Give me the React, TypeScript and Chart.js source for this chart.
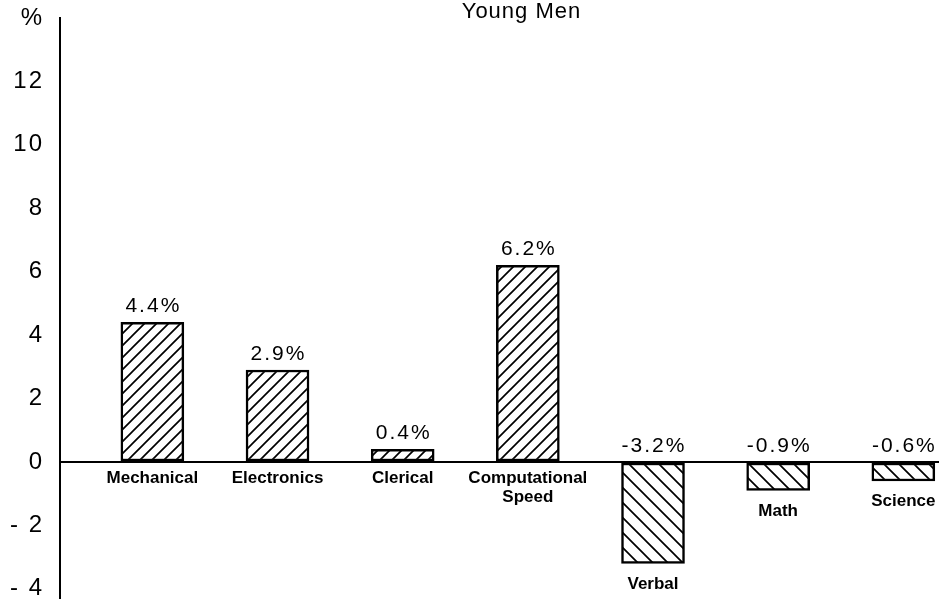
import React, { useEffect, useRef } from 'react';
import { Chart, registerables } from 'chart.js';

Chart.register(...registerables);

// ---- data ----
const categories: (string | string[])[] = [
  'Mechanical',
  'Electronics',
  'Clerical',
  ['Computational', 'Speed'],
  'Verbal',
  'Math',
  'Science',
];
const values: number[] = [4.4, 2.9, 0.4, 6.2, -3.2, -0.9, -0.6];
const titleText = 'Young Men';
const yAxisUnit = '%';

const FONT = '"Liberation Sans", Arial, Helvetica, sans-serif';

function makeHatch(dir: 1 | -1, s: number): CanvasPattern | string {
  const c = document.createElement('canvas');
  c.width = s;
  c.height = s;
  const g = c.getContext('2d');
  if (!g) return '#fff';
  g.fillStyle = '#fff';
  g.fillRect(0, 0, s, s);
  g.strokeStyle = '#000';
  g.lineWidth = 1.7;
  g.beginPath();
  if (dir === 1) {
    g.moveTo(0, s);
    g.lineTo(s, 0);
    g.moveTo(-1, 1);
    g.lineTo(1, -1);
    g.moveTo(s - 1, s + 1);
    g.lineTo(s + 1, s - 1);
  } else {
    g.moveTo(0, 0);
    g.lineTo(s, s);
    g.moveTo(s - 1, -1);
    g.lineTo(s + 1, 1);
    g.moveTo(-1, s - 1);
    g.lineTo(1, s + 1);
  }
  g.stroke();
  const p = g.createPattern(c, 'repeat');
  return p || '#fff';
}

const labelPlugin = {
  id: 'barLabels',
  beforeDraw(chart: any) {
    chart.ctx.letterSpacing = '2px';
  },
  afterDatasetsDraw(chart: any) {
    const ctx = chart.ctx as CanvasRenderingContext2D;
    const meta = chart.getDatasetMeta(0);
    meta.data.forEach((bar: any, i: number) => {
      const { x, y, base } = bar.getProps(['x', 'y', 'base'], true);
      const v = values[i];
      ctx.save();
      ctx.fillStyle = '#000';
      ctx.textAlign = 'center';
      // value label
      ctx.font = `21px ${FONT}`;
      (ctx as any).letterSpacing = '2px';
      ctx.textBaseline = 'alphabetic';
      const vy = v >= 0 ? y - 10 : base - 11;
      ctx.fillText(`${v.toFixed(1)}%`, x + 1, vy);
      // category label
      ctx.font = `bold 17px ${FONT}`;
      (ctx as any).letterSpacing = '0px';
      ctx.textBaseline = 'top';
      const cat = categories[i];
      const lines = Array.isArray(cat) ? cat : [cat];
      const ty = v >= 0 ? base + 9 : y + 12;
      lines.forEach((ln, k) => ctx.fillText(ln, x, ty + k * 19));
      ctx.restore();
    });
  },
  afterDraw(chart: any) {
    const ctx = chart.ctx as CanvasRenderingContext2D;
    ctx.save();
    (ctx as any).letterSpacing = '1px';
    ctx.fillStyle = '#000';
    ctx.font = `22px ${FONT}`;
    ctx.textAlign = 'center';
    ctx.textBaseline = 'alphabetic';
    const area = chart.chartArea;
    ctx.fillText(titleText, area.left + (area.right - area.left) * 0.525, 18);
    ctx.restore();
    (ctx as any).letterSpacing = '0px';
  },
};

export default function App() {
  const ref = useRef<HTMLCanvasElement | null>(null);

  useEffect(() => {
    document.body.style.margin = '0';
    if (!ref.current) return;
    const pos = makeHatch(1, 12);
    const neg = makeHatch(-1, 15);
    const chart = new Chart(ref.current, {
      type: 'bar',
      data: {
        datasets: [
          {
            data: values.map((v, i) => ({ x: i, y: v })),
            backgroundColor: values.map((v) => (v >= 0 ? pos : neg)) as any,
            borderColor: '#000',
            borderWidth: 2.5,
            borderSkipped: false,
            barThickness: 63,
          },
        ],
      },
      options: {
        animation: false,
        responsive: false,
        layout: { padding: { top: 18, right: 6, bottom: 0, left: 0 } },
        plugins: {
          legend: { display: false },
          tooltip: { enabled: false },
          title: { display: false },
        },
        scales: {
          x: {
            type: 'linear',
            display: false,
            min: -0.738,
            max: 6.285,
            offset: false,
          },
          y: {
            min: -4.32,
            max: 14,
            afterFit: (s: any) => {
              s.width = 60;
              s.paddingTop = 0;
              s.paddingBottom = 0;
            },
            ticks: {
              stepSize: 2,
              includeBounds: false,
              padding: 16,
              color: '#000',
              font: { size: 24, family: FONT },
              callback: (val: any) => {
                const v = Number(val);
                if (v === 14) return yAxisUnit;
                if (v < 0) return `- ${Math.abs(v)}`;
                return String(v);
              },
            },
            grid: {
              drawTicks: false,
              lineWidth: 2,
              color: (c: any) =>
                c.tick && c.tick.value === 0 ? '#000' : 'rgba(0,0,0,0)',
            },
            border: { display: true, color: '#000', width: 2 },
          },
        },
      } as any,
      plugins: [labelPlugin],
    });
    return () => chart.destroy();
  }, []);

  return (
    <div style={{ width: 945, height: 599, background: '#fff' }}>
      <canvas ref={ref} width={945} height={599} style={{ display: 'block' }} />
    </div>
  );
}
